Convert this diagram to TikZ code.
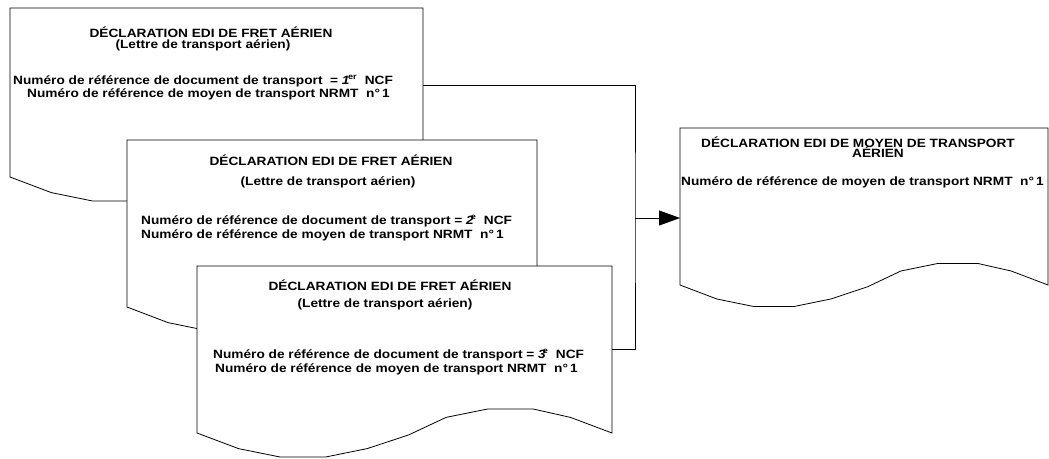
\documentclass[tikz,border=0pt]{standalone}
\usepackage{fontspec}
\setmainfont{Liberation Sans}[FakeStretch=1.14]
\usetikzlibrary{arrows.meta, positioning, calc}

% outline of a document with a wavy lower edge
\newcommand{\wavydoc}[2]{%
  \filldraw[docline] (#1.south west) |- (#1.north east) -- (#1.south east)
    \foreach \f/\d in {0.9/-0.65,0.81/-1,0.7/-1,0.6/-0.65,0.51/0.08,0.41/0.65,0.31/1,0.2/1,0.1/0.65}
      {-- ($(#1.south west)!\f!(#1.south east)+(0,\d*#2)$)} -- cycle;}

\tikzset{
  docbox/.style={rectangle, inner sep=0pt, outer sep=0pt, anchor=north west},
  docline/.style={draw=black, fill=white, line width=0.8pt},
  doctext/.style={font=\fontsize{12}{14}\selectfont\bfseries, inner sep=0pt},
  link/.style={draw=black, line width=0.8pt},
}

\begin{document}
\begin{tikzpicture}[x=1pt, y=-1pt]
  \useasboundingbox (0,0) rectangle (1049,458);

  % first air waybill
  \node[docbox, minimum width=413pt, minimum height=169pt] (doc1) at (10,8) {};
  \wavydoc{doc1}{24}
  \node[doctext, anchor=base] (doc1title) at (211,37) {DÉCLARATION EDI DE FRET AÉRIEN};
  \node[doctext, anchor=base] (doc1sub) at (203,48) {(Lettre de transport aérien)};
  \node[doctext, anchor=base west] (doc1ref) at (13,84)
    {Numéro de référence de document de transport\ \ = \textit{1}\kern-1.5pt\textsuperscript{er}\ \ NCF};
  \node[doctext, anchor=base west] (doc1nrmt) at (27,97)
    {Numéro de référence de moyen de transport NRMT\ \ n°\,1};

  % second air waybill
  \node[docbox, minimum width=410pt, minimum height=167pt] (doc2) at (127,140) {};
  \wavydoc{doc2}{24}
  \node[doctext, anchor=base] (doc2title) at (331,165) {DÉCLARATION EDI DE FRET AÉRIEN};
  \node[doctext, anchor=base] (doc2sub) at (328,185) {(Lettre de transport aérien)};
  \node[doctext, anchor=base west] (doc2ref) at (141,224)
    {Numéro de référence de document de transport = \textit{2}\kern-3pt\textsuperscript{e}\ \ NCF};
  \node[doctext, anchor=base west] (doc2nrmt) at (141,238)
    {Numéro de référence de moyen de transport NRMT\ \ n°\,1};

  % third air waybill
  \node[docbox, minimum width=415pt, minimum height=167pt] (doc3) at (197,266) {};
  \wavydoc{doc3}{24}
  \node[doctext, anchor=base] (doc3title) at (390,290) {DÉCLARATION EDI DE FRET AÉRIEN};
  \node[doctext, anchor=base] (doc3sub) at (385,307) {(Lettre de transport aérien)};
  \node[doctext, anchor=base west] (doc3ref) at (213,358)
    {Numéro de référence de document de transport = \textit{3}\kern-3pt\textsuperscript{e}\ \ NCF};
  \node[doctext, anchor=base west] (doc3nrmt) at (215,372)
    {Numéro de référence de moyen de transport NRMT\ \ n°\,1};

  % means of transport declaration
  \node[docbox, minimum width=368pt, minimum height=157pt] (doc4) at (680,128) {};
  \wavydoc{doc4}{21.5}
  \node[doctext, anchor=base] (doc4title) at (858,147) {DÉCLARATION EDI DE MOYEN DE TRANSPORT};
  \node[doctext, anchor=base] (doc4sub) at (878,157) {AÉRIEN};
  \node[doctext, anchor=base west] (doc4nrmt) at (681,185)
    {Numéro de référence de moyen de transport NRMT\ \ n°\,1};

  % connectors
  \coordinate (bus) at (635,218);
  \draw[link] ([yshift=7.5pt]doc1.east) -| (bus) |- (doc3.east);
  \draw[link, -{Triangle[length=21pt, width=15pt]}] (bus) -- (bus -| doc4.west);
\end{tikzpicture}
\end{document}
